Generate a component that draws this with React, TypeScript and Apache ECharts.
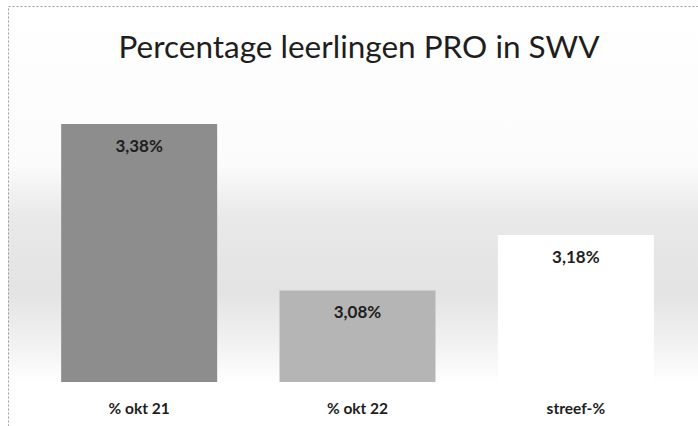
import React, { useEffect, useRef } from "react";
import * as echarts from "echarts";

const titleText = "Percentage leerlingen PRO in SWV";
const categories = ["% okt 21", "% okt 22", "streef-%"];
const values = [3.38, 3.08, 3.18];
const valueLabels = ["3,38%", "3,08%", "3,18%"];
const barColors = ["#8d8d8d", "#b5b5b5", "#ffffff"];

export default function App() {
  const ref = useRef<HTMLDivElement>(null);
  useEffect(() => {
    if (!ref.current) return;
    const chart = echarts.init(ref.current, null, { renderer: "svg" });
    chart.setOption({
      animation: false,
      backgroundColor: "#ffffff",
      title: {
        text: titleText,
        left: 354,
        textAlign: "center",
        top: 25,
        textStyle: { fontFamily: "Lato", fontSize: 31.5, fontWeight: "normal", color: "#1e1e1e" },
      },
      graphic: [
        {
          type: "rect",
          z: -10,
          silent: true,
          shape: { x: 8, y: 6, width: 690, height: 420 },
          style: {
            fill: new echarts.graphic.LinearGradient(0, 0, 0, 1, [
              { offset: 0, color: "#ffffff" },
              { offset: 0.38, color: "#fbfbfb" },
              { offset: 0.5, color: "#e9e9e9" },
              { offset: 0.68, color: "#e3e3e3" },
              { offset: 0.8, color: "#f1f1f1" },
              { offset: 0.9, color: "#ffffff" },
              { offset: 1, color: "#ffffff" },
            ]),
          },
        },
        {
          type: "rect",
          z: 10,
          silent: true,
          shape: { x: 8.5, y: 6.5, width: 720, height: 440 },
          style: { fill: "none", stroke: "#9a9a9a", lineWidth: 1, lineDash: [2, 2] },
        },
      ],
      grid: { left: 30, right: 13, top: 113, bottom: 44 },
      xAxis: {
        type: "category",
        data: categories,
        axisLine: { show: false },
        axisTick: { show: false },
        axisLabel: {
          margin: 18,
          fontFamily: "Lato",
          fontWeight: "bold",
          fontSize: 15.5,
          color: "#1e1e1e",
        },
      },
      yAxis: {
        type: "value",
        min: 2.915,
        max: 3.4,
        show: false,
        splitLine: { show: false },
      },
      series: [
        {
          type: "bar",
          barWidth: 156,
          data: values.map((v, i) => ({
            value: v,
            itemStyle: { color: barColors[i] },
          })),
          label: {
            show: true,
            position: "insideTop",
            distance: 13,
            fontFamily: "Lato",
            fontWeight: "bold",
            fontSize: 17,
            color: "#1e1e1e",
            formatter: (p: any) => valueLabels[p.dataIndex],
          },
        },
      ],
    });
    return () => chart.dispose();
  }, []);
  return (
    <div
      ref={ref}
      style={{ position: "fixed", left: 0, top: 0, width: 698, height: 426 }}
    />
  );
}
